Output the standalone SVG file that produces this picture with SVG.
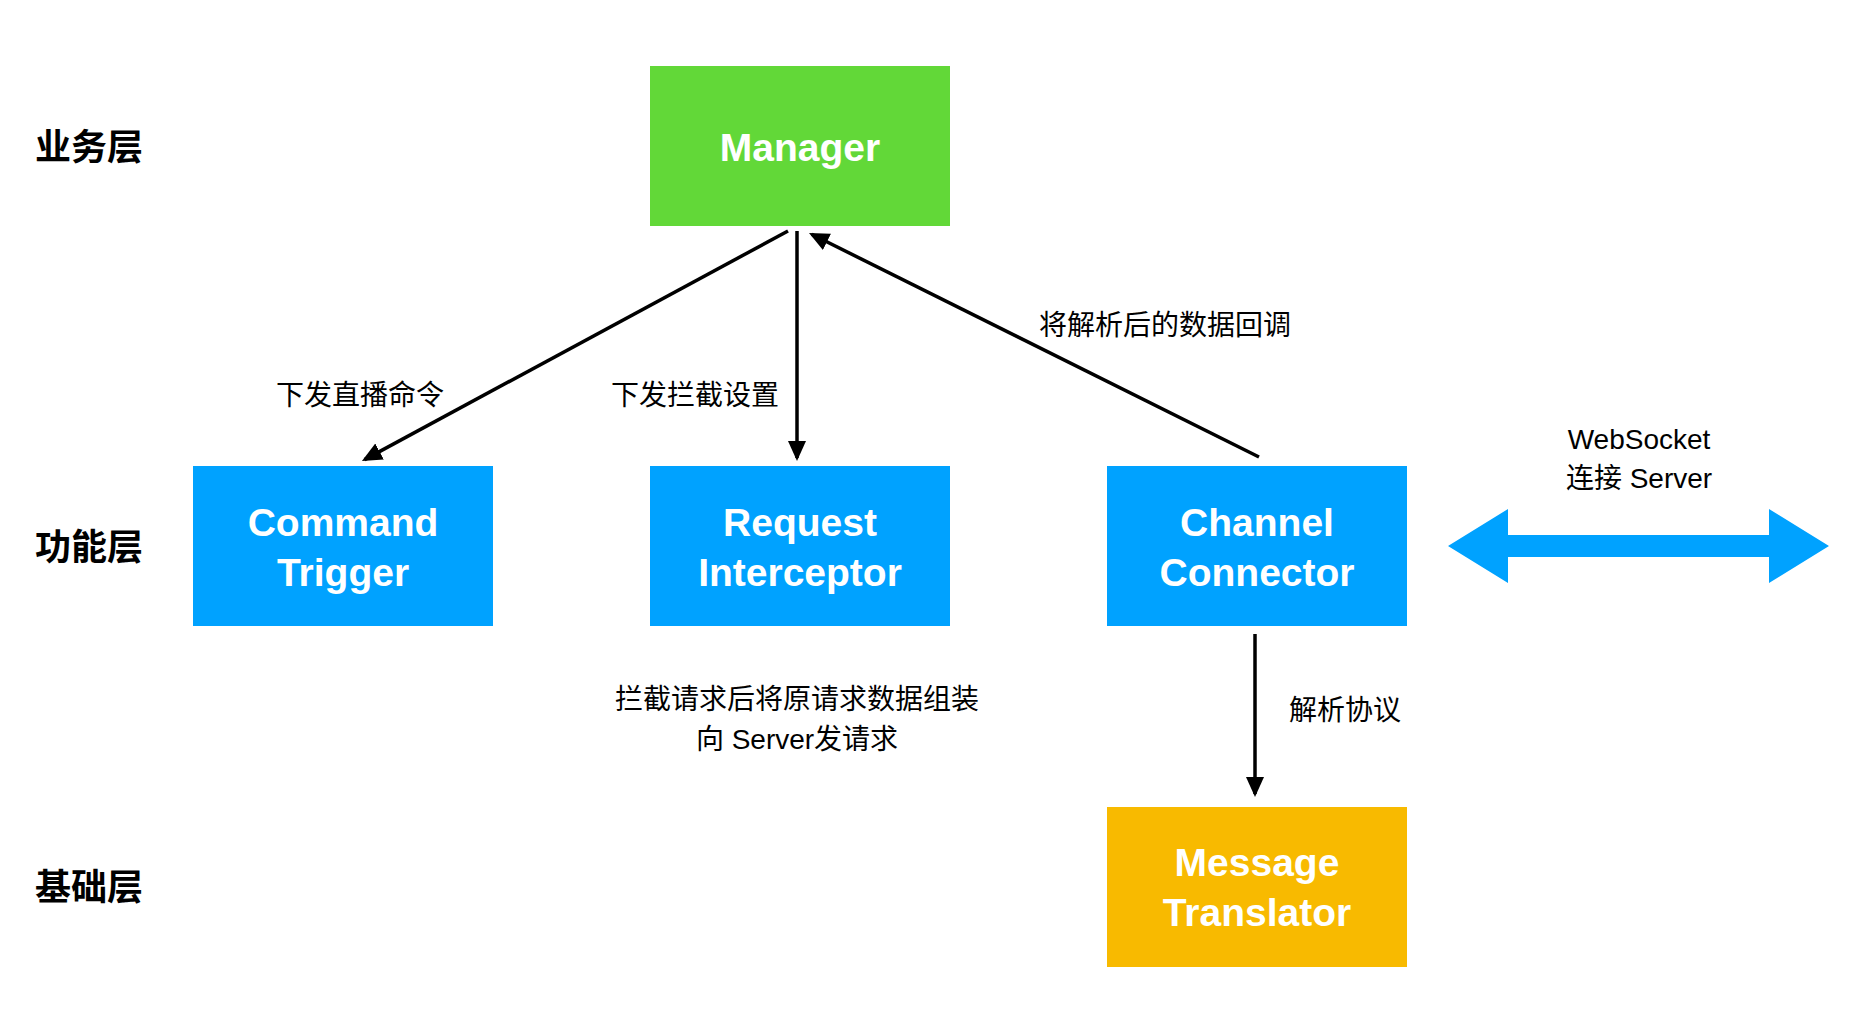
<svg xmlns="http://www.w3.org/2000/svg" width="1862" height="1010" viewBox="0 0 1862 1010">
<style>
.layer{font-family:"Liberation Sans","Noto Sans CJK SC",sans-serif;font-size:36px;font-weight:bold;fill:#000}
.node text{font-family:"Liberation Sans","Noto Sans CJK SC",sans-serif;font-size:39px;font-weight:bold;fill:#fff;text-anchor:middle}
.lbl{font-family:"Liberation Sans","Noto Sans CJK SC",sans-serif;font-size:28px;fill:#000;text-anchor:middle}
.conn line{stroke:#000;stroke-width:3.5;fill:none;marker-end:url(#ah)}
</style>
<defs>
<marker id="ah" markerUnits="userSpaceOnUse" markerWidth="20" markerHeight="20" viewBox="0 0 20 20" refX="17" refY="10" orient="auto">
<path d="M0,1 L20,10 L0,19 Z" fill="#000"/>
</marker>
</defs>
<rect width="1862" height="1010" fill="#fff"/>
<g id="layers">
<text class="layer" x="35" y="160">业务层</text>
<text class="layer" x="35" y="560">功能层</text>
<text class="layer" x="35" y="900">基础层</text>
</g>
<g id="manager" class="node">
<rect x="650" y="66" width="300" height="160" fill="#62D838"/>
<text x="800" y="161">Manager</text>
</g>
<g id="command-trigger" class="node">
<rect x="193" y="466" width="300" height="160" fill="#00A2FF"/>
<text x="343" y="536">Command</text>
<text x="343" y="586">Trigger</text>
</g>
<g id="request-interceptor" class="node">
<rect x="650" y="466" width="300" height="160" fill="#00A2FF"/>
<text x="800" y="536">Request</text>
<text x="800" y="586">Interceptor</text>
</g>
<g id="channel-connector" class="node">
<rect x="1107" y="466" width="300" height="160" fill="#00A2FF"/>
<text x="1257" y="536">Channel</text>
<text x="1257" y="586">Connector</text>
</g>
<g id="message-translator" class="node">
<rect x="1107" y="807" width="300" height="160" fill="#F8BA00"/>
<text x="1257" y="876">Message</text>
<text x="1257" y="926">Translator</text>
</g>
<g id="websocket-arrow">
<path d="M1448,546 L1508,509 L1508,535 L1769,535 L1769,509 L1829,546 L1769,583 L1769,557 L1508,557 L1508,583 Z" fill="#00A2FF"/>
<text class="lbl" x="1639" y="449">WebSocket</text>
<text class="lbl" x="1639" y="488">连接 Server</text>
</g>
<g id="connectors" class="conn">
<line x1="788" y1="231" x2="364.6" y2="459.6"/>
<line x1="797" y1="231" x2="797" y2="458"/>
<line x1="1259" y1="457" x2="811.7" y2="234.3"/>
<line x1="1255" y1="634" x2="1255" y2="794"/>
</g>
<g id="labels">
<text class="lbl" x="360" y="405">下发直播命令</text>
<text class="lbl" x="695" y="405">下发拦截设置</text>
<text class="lbl" x="1165" y="335">将解析后的数据回调</text>
<text class="lbl" x="1345" y="720">解析协议</text>
<text class="lbl" x="797" y="709">拦截请求后将原请求数据组装</text>
<text class="lbl" x="797" y="749">向 Server发请求</text>
</g>
</svg>
